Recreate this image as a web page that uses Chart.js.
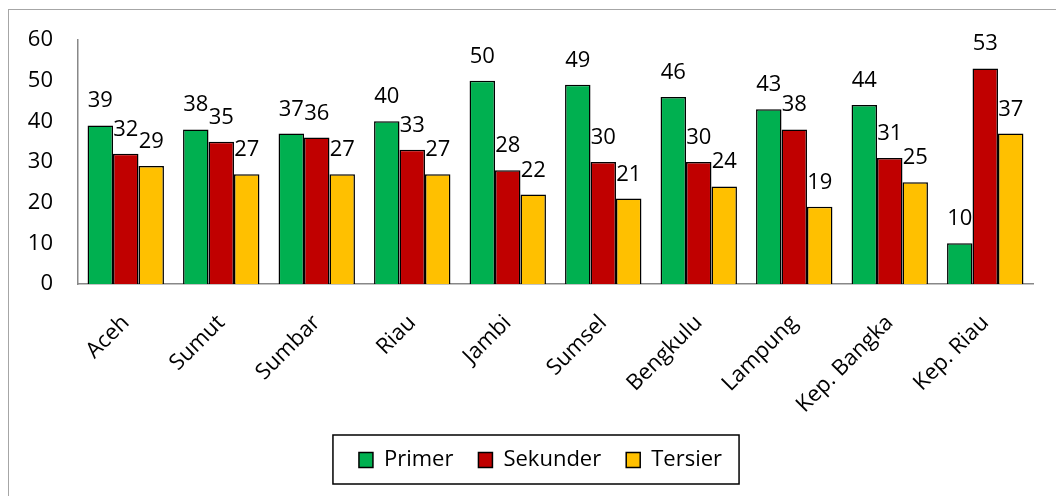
<!DOCTYPE html>
<html>
<head>
<meta charset="utf-8">
<script src="https://cdn.jsdelivr.net/npm/chart.js@4/dist/chart.umd.min.js"></script>
<style>
  html, body { margin: 0; padding: 0; background: #fff; overflow: hidden; }
  #wrap { position: relative; width: 1056px; height: 496px; }
  #frame { position: absolute; left: 8px; top: 9px; width: 1200px; height: 700px;
           border-left: 1.5px solid #a6a6a6; border-top: 1.5px solid #a6a6a6; pointer-events: none; }
  canvas { position: absolute; left: 0; top: 0; }
</style>
</head>
<body>
<div id="wrap">
  <div id="frame"></div>
  <canvas id="c" width="1056" height="496"></canvas>
</div>
<script>
// Provinces along the x axis
const categories = ['Aceh', 'Sumut', 'Sumbar', 'Riau', 'Jambi', 'Sumsel', 'Bengkulu', 'Lampung', 'Kep. Bangka', 'Kep. Riau'];

// Share per sector (%)
const primer   = [39, 38, 37, 40, 50, 49, 46, 43, 44, 10];
const sekunder = [32, 35, 36, 33, 28, 30, 30, 38, 31, 53];
const tersier  = [29, 27, 27, 27, 22, 21, 24, 19, 25, 37];

// Value axis ticks
const yTicks = [0, 10, 20, 30, 40, 50, 60];

const FONT = "'Open Sans', 'Liberation Sans', sans-serif";

// Writes each bar's value above it
const valueLabels = {
  id: 'valueLabels',
  afterDatasetsDraw(chart) {
    const ctx = chart.ctx;
    ctx.save();
    ctx.font = '22px ' + FONT;
    ctx.fillStyle = '#000';
    ctx.textAlign = 'center';
    ctx.textBaseline = 'alphabetic';
    chart.data.datasets.forEach((ds, i) => {
      chart.getDatasetMeta(i).data.forEach((bar, j) => {
        ctx.fillText(String(ds.data[j]), bar.x, bar.y - 18);
      });
    });
    ctx.restore();
  }
};

// Nudges the legend row right, then frames it
const legendFrame = {
  id: 'legendFrame',
  afterLayout(chart) {
    const lg = chart.legend;
    if (lg) { lg.left += 24; lg.right += 24; }
  },
  afterDraw(chart) {
    const lg = chart.legend;
    if (!lg || !lg.legendHitBoxes || !lg.legendHitBoxes.length) return;
    const hb = lg.legendHitBoxes;
    const first = hb[0], last = hb[hb.length - 1];
    const cy = first.top + first.height / 2;
    const left = first.left - 26;
    const right = last.left + last.width + 17;
    const ctx = chart.ctx;
    ctx.save();
    ctx.strokeStyle = '#000';
    ctx.lineWidth = 1.5;
    ctx.strokeRect(left, cy - 25, right - left, 49);
    ctx.restore();
  }
};

const mk = (label, data, color) => ({
  label, data,
  backgroundColor: color,
  borderColor: '#000',
  borderWidth: 1.5,
  borderSkipped: 'bottom',
  categoryPercentage: 0.8,
  barPercentage: 1.0
});

new Chart(document.getElementById('c'), {
  type: 'bar',
  data: {
    labels: categories,
    datasets: [
      mk('Primer', primer, '#00B050'),
      mk('Sekunder', sekunder, '#C00000'),
      mk('Tersier', tersier, '#FFC000')
    ]
  },
  options: {
    responsive: false,
    animation: false,
    devicePixelRatio: 1,
    layout: { padding: { left: 0, right: 23, top: 40, bottom: 15 } },
    plugins: {
      tooltip: { enabled: false },
      legend: {
        position: 'bottom',
        labels: {
          color: '#000',
          font: { family: FONT, size: 22 },
          boxWidth: 14,
          boxHeight: 15,
          padding: 25
        }
      }
    },
    scales: {
      x: {
        grid: { display: false, drawTicks: false },
        border: { display: true, color: '#888', width: 1.5 },
        ticks: {
          color: '#000',
          font: { family: FONT, size: 22 },
          minRotation: 45,
          maxRotation: 45,
          autoSkip: false,
          padding: 26
        },
        afterFit(scale) { scale.height = 140; }
      },
      y: {
        min: 0,
        max: 60,
        afterBuildTicks(scale) { scale.ticks = yTicks.map(v => ({ value: v })); },
        grid: { display: false, drawTicks: false },
        border: { display: true, color: '#888', width: 1.5 },
        ticks: {
          color: '#000',
          font: { family: FONT, size: 22 },
          padding: 25
        },
        afterFit(scale) { scale.width = 78; }
      }
    }
  },
  plugins: [valueLabels, legendFrame]
});
</script>
</body>
</html>
